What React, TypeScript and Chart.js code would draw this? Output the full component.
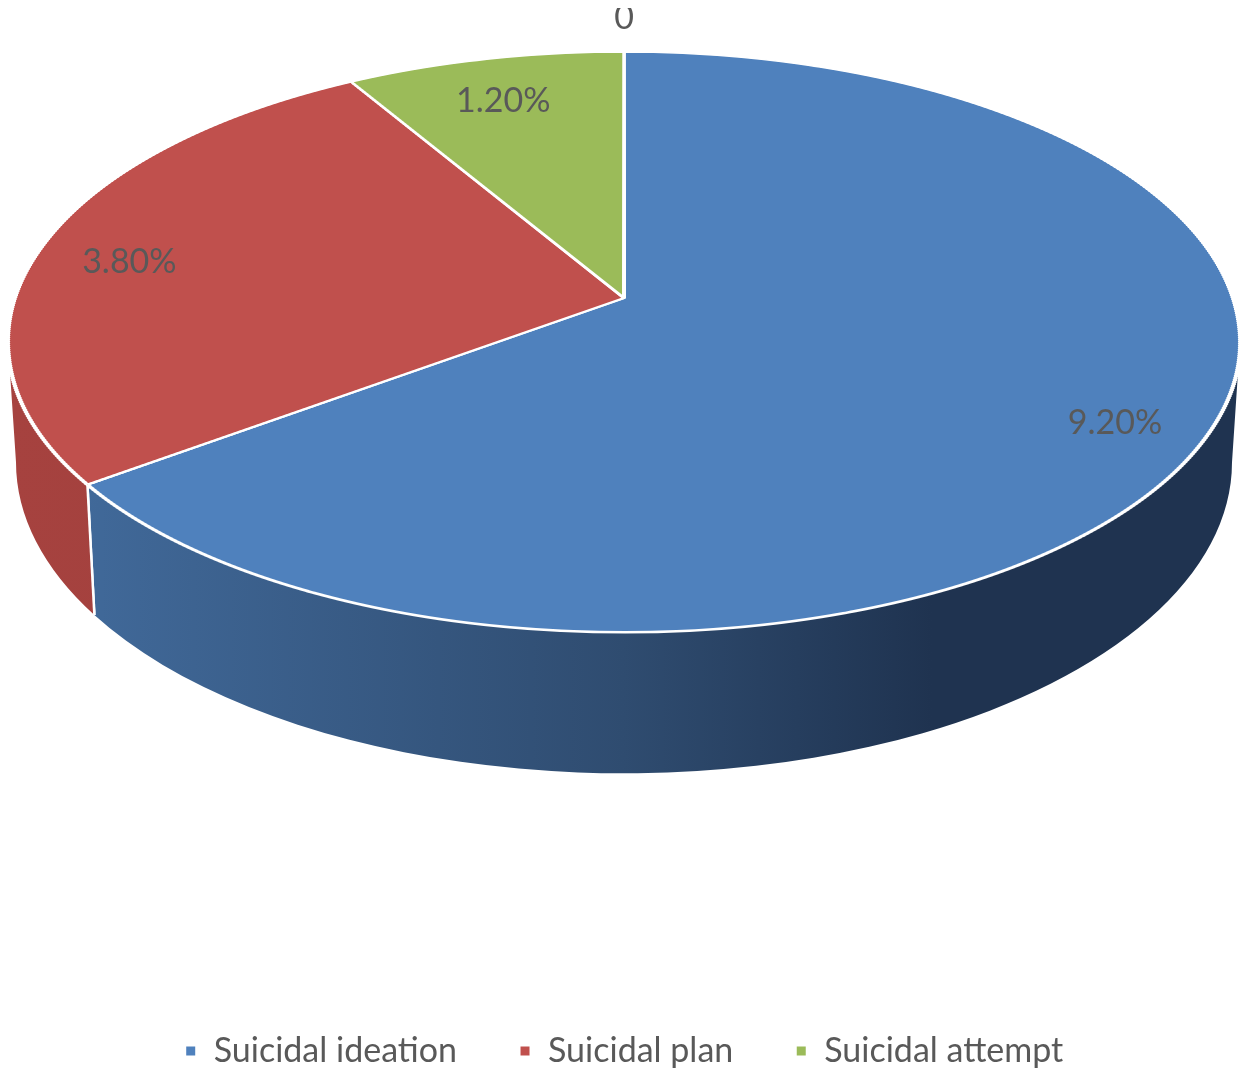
import React, { useEffect, useRef } from 'react';
import { Chart, registerables } from 'chart.js';
import type { Plugin } from 'chart.js';

Chart.register(...registerables);

const categories = ['Suicidal ideation', 'Suicidal plan', 'Suicidal attempt', ''];
const values = [9.2, 3.8, 1.2, 0];
const valueLabels = ['9.20%', '3.80%', '1.20%', '0'];
const topColors = ['#4f81bd', '#c0504d', '#9bbb59', '#8064a2'];
const wallColors = [
  ['#436d9f', '#2f4c70', '#1f3350'],
  ['#a6423f', '#9c3e3b', '#8a3734'],
  ['#84a04b', '#7a9445', '#6c833d'],
  ['#6c5489', '#624c7d', '#56436e'],
];

const TILT = 0.471;
const LIFT = -0.152; // camera perspective: the hub shows up above the rim's centre
const WALL_DROP = 120;
const WALL_GROW = 21;
const WALL_SHRINK = 8;
const STRIP = 2;
const LABEL_FONT = '34px Lato, "Open Sans", sans-serif';

const K = Math.sqrt(1 - LIFT * LIFT);

function ellipseOf(chart: Chart) {
  const a = chart.chartArea;
  const rx = (a.right - a.left) / 2;
  const ry = rx * TILT;
  return { cx: (a.left + a.right) / 2, cy: a.top + ry, rx, ry };
}

// unit disk -> screen, a homography that keeps the rim an ellipse
function project(e: ReturnType<typeof ellipseOf>, u: number, v: number) {
  const w = 1 + LIFT * v;
  return { x: e.cx + (e.rx * K * u) / w, y: e.cy + (e.ry * (v + LIFT)) / w };
}

function unprojectV(Y: number) {
  return (Y - LIFT) / (1 - LIFT * Y);
}

function rimAngle(theta: number) {
  const w = 1 + LIFT * Math.sin(theta);
  return Math.atan2((Math.sin(theta) + LIFT) / w, (K * Math.cos(theta)) / w);
}

const pie3d: Plugin<'pie'> = {
  id: 'pie3d',
  beforeDatasetsDraw(chart) {
    const ctx = chart.ctx;
    const meta = chart.getDatasetMeta(0);
    const first: any = meta.data[0];
    if (!first) return;
    const e = ellipseOf(chart);
    const bx = e.rx - WALL_SHRINK;
    const by = e.ry + WALL_GROW;
    const bcy = e.cy + WALL_DROP;

    // side walls, only the front half shows
    meta.data.forEach((el: any, i: number) => {
      if (el.endAngle - el.startAngle <= 0) return;
      const s = rimAngle(el.startAngle);
      let f = rimAngle(el.endAngle);
      while (f <= s) f += 2 * Math.PI;
      for (const off of [-2 * Math.PI, 0, 2 * Math.PI]) {
        const a1 = Math.max(s + off, 0);
        const a2 = Math.min(f + off, Math.PI);
        if (a2 <= a1) continue;
        const grad = ctx.createLinearGradient(e.cx - e.rx, 0, e.cx + e.rx, 0);
        grad.addColorStop(0, wallColors[i][0]);
        grad.addColorStop(0.5, wallColors[i][1]);
        grad.addColorStop(0.75, wallColors[i][2]);
        grad.addColorStop(1, wallColors[i][2]);
        ctx.save();
        ctx.beginPath();
        ctx.ellipse(e.cx, e.cy, e.rx, e.ry, 0, a1, a2);
        ctx.lineTo(e.cx + bx * Math.cos(a2), bcy + by * Math.sin(a2));
        ctx.ellipse(e.cx, bcy, bx, by, 0, a2, a1, true);
        ctx.closePath();
        ctx.fillStyle = grad;
        ctx.fill();
        ctx.strokeStyle = '#ffffff';
        ctx.lineWidth = 2.5;
        for (const a of [a1, a2]) {
          if (a > 0.001 && a < Math.PI - 0.001) {
            ctx.beginPath();
            ctx.moveTo(e.cx + e.rx * Math.cos(a), e.cy + e.ry * Math.sin(a));
            ctx.lineTo(e.cx + bx * Math.cos(a), bcy + by * Math.sin(a));
            ctx.stroke();
          }
        }
        ctx.restore();
      }
    });

    // top face: the library's arcs, redrawn strip by strip under the perspective map
    const R = first.outerRadius;
    const px = first.x;
    const py = first.y;
    const top = Math.floor(e.cy - e.ry) - 4;
    const bottom = Math.ceil(e.cy + e.ry) + 4;
    for (let y0 = top; y0 < bottom; y0 += STRIP) {
      const v0 = unprojectV((y0 - e.cy) / e.ry);
      const v1 = unprojectV((y0 + STRIP - e.cy) / e.ry);
      const vm = (v0 + v1) / 2;
      const sx = (e.rx * K) / ((1 + LIFT * vm) * R);
      const sy = STRIP / ((v1 - v0) * R);
      ctx.save();
      ctx.beginPath();
      ctx.rect(0, y0, chart.width, STRIP);
      ctx.clip();
      ctx.transform(sx, 0, 0, sy, e.cx - sx * px, y0 - sy * (py + v0 * R));
      meta.data.forEach((el: any) => el.draw(ctx));
      ctx.restore();
    }
    return false;
  },
  afterDraw(chart) {
    const ctx = chart.ctx;
    const meta = chart.getDatasetMeta(0);
    const e = ellipseOf(chart);
    ctx.save();
    ctx.font = LABEL_FONT;
    ctx.fillStyle = '#595959';
    ctx.textAlign = 'center';
    ctx.textBaseline = 'middle';
    meta.data.forEach((el: any, i: number) => {
      const mid = (el.startAngle + el.endAngle) / 2;
      if (values[i] === 0) {
        const p = project(e, Math.cos(mid), Math.sin(mid));
        ctx.fillText(valueLabels[i], p.x, p.y - 34);
        return;
      }
      const p = project(e, 0.85 * Math.cos(mid), 0.85 * Math.sin(mid));
      ctx.fillText(valueLabels[i], p.x, p.y + 10);
    });
    ctx.restore();
  },
};

const App: React.FC = () => {
  const canvasRef = useRef<HTMLCanvasElement>(null);
  const chartRef = useRef<Chart | null>(null);

  useEffect(() => {
    if (!canvasRef.current) return;
    if (chartRef.current) chartRef.current.destroy();
    chartRef.current = new Chart(canvasRef.current, {
      type: 'pie',
      data: {
        labels: categories,
        datasets: [
          {
            data: values,
            backgroundColor: topColors,
            borderColor: '#ffffff',
            borderWidth: 3,
          },
        ],
      },
      options: {
        animation: false,
        responsive: true,
        maintainAspectRatio: false,
        layout: { padding: { top: 52, left: 0, right: 0, bottom: 0 } },
        plugins: {
          tooltip: { enabled: false },
          legend: {
            position: 'bottom',
            labels: {
              font: { family: 'Lato, "Open Sans", sans-serif', size: 34 },
              color: '#595959',
              boxWidth: 12,
              boxHeight: 12,
              padding: 62,
              filter: (item) => categories[item.index ?? 0] !== '',
            },
          },
        },
      },
      plugins: [pie3d],
    });
    return () => {
      if (chartRef.current) {
        chartRef.current.destroy();
        chartRef.current = null;
      }
    };
  }, []);

  return (
    <div style={{ width: 1232, height: 1078, marginTop: -8, marginBottom: -8, position: 'relative' }}>
      <canvas ref={canvasRef} />
    </div>
  );
};

export default App;
